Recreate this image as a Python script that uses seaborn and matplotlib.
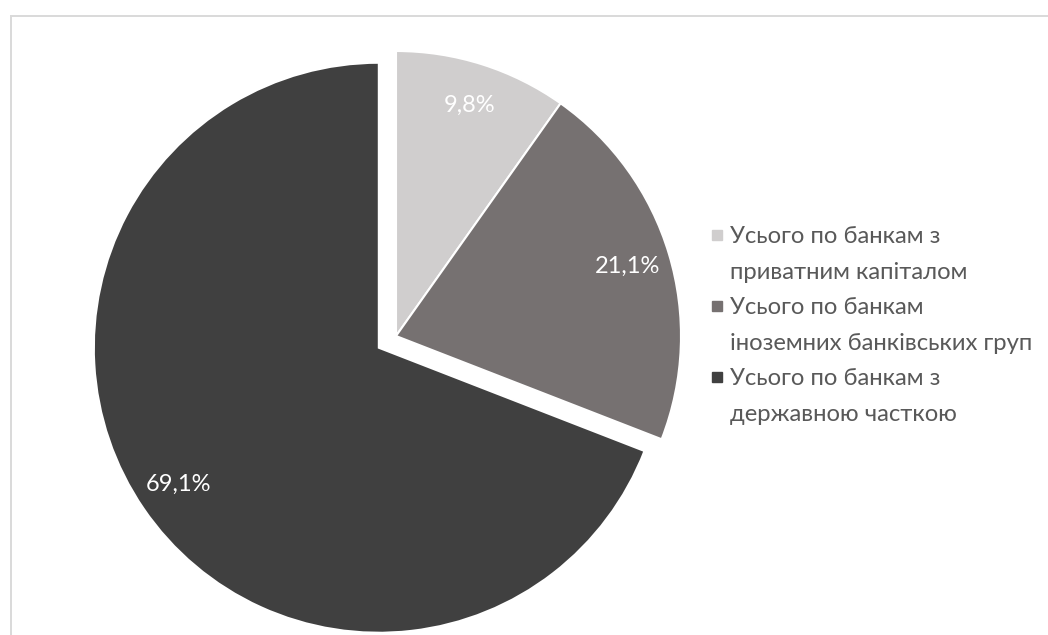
import matplotlib
matplotlib.use("Agg")
import matplotlib.pyplot as plt
from matplotlib.lines import Line2D
from matplotlib.patches import Rectangle
import seaborn as sns

# Bank groups and their shares, %
categories = [
    "Усього по банкам з\nприватним капіталом",
    "Усього по банкам\nіноземних банківських груп",
    "Усього по банкам з\nдержавною часткою",
]
shares = [9.8, 21.1, 69.1]
explode = [0, 0, 0.073]

sns.set_theme(style="white")
plt.rcParams["font.family"] = ["Lato", "DejaVu Sans"]
colors = sns.color_palette(["#d0cece", "#767171", "#404040"])

W, H = 1048, 635
fig = plt.figure(figsize=(W / 100, H / 100), dpi=100)
ax = fig.add_axes([0, 0, 1, 1])

wedges, texts, autotexts = ax.pie(
    shares,
    colors=colors,
    startangle=90,
    counterclock=False,
    explode=explode,
    autopct=lambda p: f"{p:.1f}%".replace(".", ","),
    pctdistance=0.85,
    wedgeprops=dict(edgecolor="white", linewidth=1.5),
    textprops=dict(color="white", fontsize=17),
)

# place the pie: radius R px, centre at (cx, cy) px from top-left
R, cx, cy = 285, 396, 336
ax.set_xlim(-cx / R, (W - cx) / R)
ax.set_ylim(-(H - cy) / R, cy / R)
ax.set_aspect("auto")
ax.axis("off")

# legend: one row per text line, marker on the first line of each entry
handles, labels = [], []
for cat, col in zip(categories, colors):
    first, second = cat.split("\n")
    handles.append(Line2D([], [], marker="s", linestyle="", color=col, markersize=6.5))
    labels.append(first)
    handles.append(Line2D([], [], linestyle="", marker=""))
    labels.append(second)

fs = 17.2
fig.legend(
    handles, labels,
    loc="upper left",
    bbox_to_anchor=(710 / W, 1 - 226 / H),
    frameon=False,
    fontsize=fs,
    labelcolor="#595959",
    handlelength=0.55,
    handletextpad=0.3,
    labelspacing=0.61,
    borderpad=0,
    borderaxespad=0,
)

# light chart-area border
fig.add_artist(Rectangle((11 / W, -0.1), 2, 1 - 16 / H + 0.1,
                         transform=fig.transFigure, fill=False,
                         edgecolor="#d9d9d9", linewidth=1.4, clip_on=False))

fig.savefig("out.png", dpi=100, facecolor="white")
